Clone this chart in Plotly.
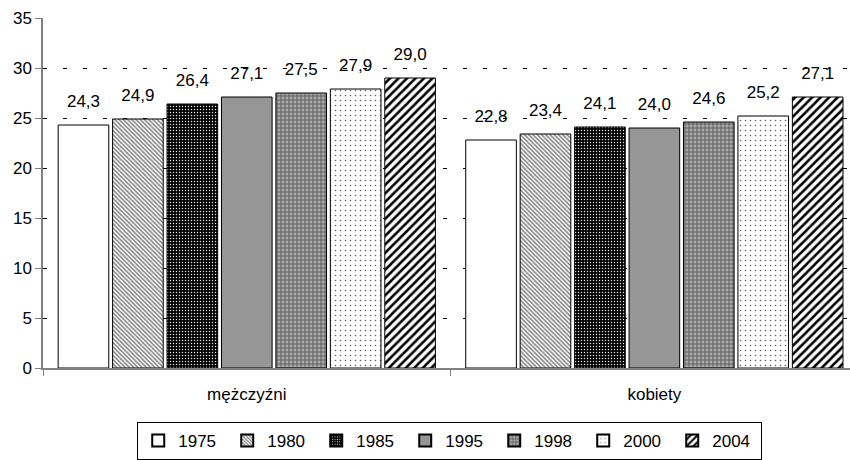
import plotly.graph_objects as go

categories = ["mężczyźni", "kobiety"]
years = ["1975", "1980", "1985", "1995", "1998", "2000", "2004"]
values = {
    "1975": [24.3, 22.8],
    "1980": [24.9, 23.4],
    "1985": [26.4, 24.1],
    "1995": [27.1, 24.0],
    "1998": [27.5, 24.6],
    "2000": [27.9, 25.2],
    "2004": [29.0, 27.1],
}
y_ticks = [0, 5, 10, 15, 20, 25, 30, 35]

# fill style per year: (background, pattern shape, pattern colour, size, solidity)
styles = {
    "1975": ("white", "", "black", 8, 0.3),
    "1980": ("white", "\\", "#808080", 3, 0.5),
    "1985": ("black", ".", "#e0e0e0", 3, 0.2),
    "1995": ("#969696", "", "black", 8, 0.3),
    "1998": ("#a8a8a8", "+", "#404040", 4, 0.3),
    "2000": ("white", ".", "#606060", 5, 0.08),
    "2004": ("white", "/", "black", 6, 0.42),
}

GAP = 0.065
fig = go.Figure()
for yr in years:
    bg, shape, fg, size, sol = styles[yr]
    marker = dict(color=bg, line=dict(color="black", width=1))
    if shape:
        marker["pattern"] = dict(shape=shape, fgcolor=fg, bgcolor=bg,
                                 size=size, solidity=sol, fillmode="replace")
    fig.add_trace(go.Bar(
        name=yr, x=categories, y=values[yr], marker=marker,
        offsetgroup=yr,
    ))

# value labels: text-only scatter points grouped like the bars;
# an invisible marker keeps the label clear of the bar top
for yr in years:
    fig.add_trace(go.Scatter(
        x=categories, y=values[yr], mode="text+markers",
        marker=dict(size=20, opacity=0),
        text=[f"{v:.1f}".replace(".", ",") for v in values[yr]],
        textposition="top center", textfont=dict(size=17, color="black"),
        offsetgroup=yr, showlegend=False, hoverinfo="skip", cliponaxis=False,
    ))

fig.update_layout(
    width=850, height=460,
    margin=dict(l=43, r=0, t=18, b=90),
    paper_bgcolor="white", plot_bgcolor="white",
    separators=", ",
    font=dict(family="Liberation Sans, Arial, sans-serif", size=17, color="black"),
    barmode="group", bargap=GAP, bargroupgap=0.07,
    scattermode="group", scattergap=GAP,
    showlegend=True,
    legend=dict(orientation="h", x=0.504, xanchor="center", y=-0.155, yanchor="top",
                bordercolor="black", borderwidth=1, font=dict(size=17),
                entrywidth=44, entrywidthmode="pixels", traceorder="normal",
                itemsizing="constant", itemwidth=30),
)
fig.update_xaxes(
    type="category", range=[-0.5, 1.48],
    showline=True, linecolor="#808080", linewidth=1.5,
    ticks="outside", tickson="boundaries", ticklen=6, tickcolor="#808080",
    showgrid=False, tickfont=dict(size=17), ticklabelstandoff=10,
)
fig.update_yaxes(
    range=[0, 35], tickvals=y_ticks, ticktext=[str(v) for v in y_ticks],
    showline=True, linecolor="#808080", linewidth=1.5,
    ticks="outside", ticklen=6, tickcolor="#808080",
    showgrid=True, gridcolor="black", gridwidth=1, griddash="4px,16px",
    zeroline=False, tickfont=dict(size=17),
)

fig.write_html("out.html")
